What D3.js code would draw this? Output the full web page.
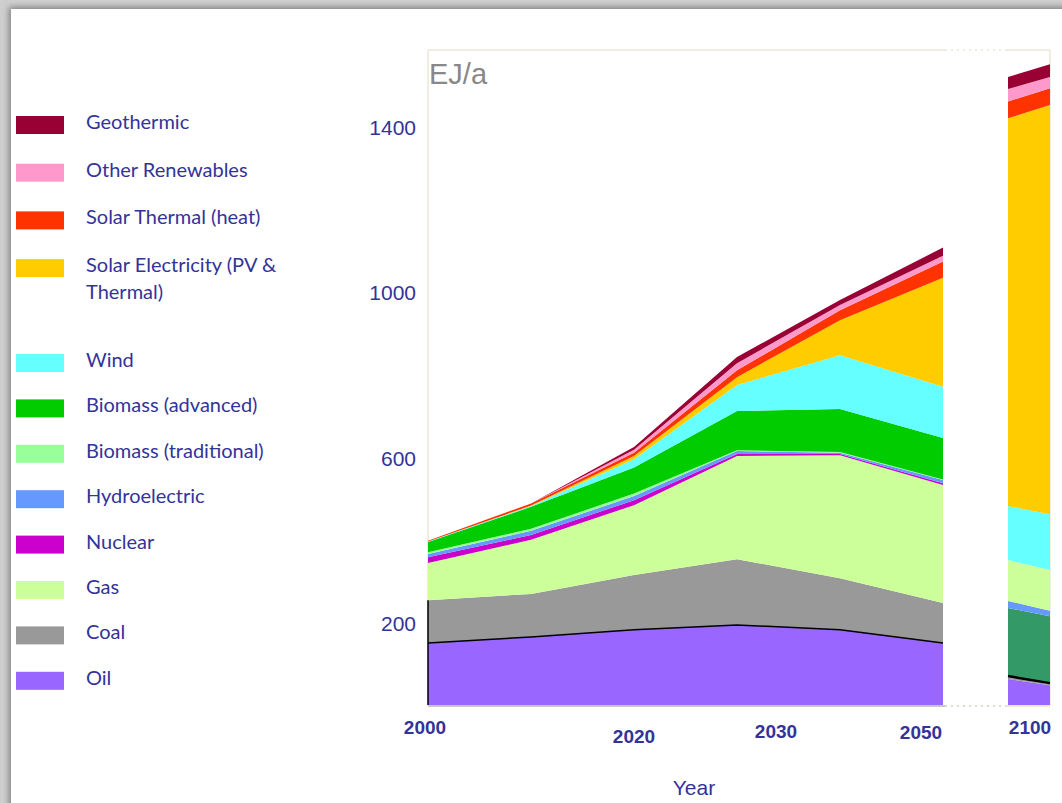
<!DOCTYPE html>
<html>
<head>
<meta charset="utf-8">
<script src="https://cdn.jsdelivr.net/npm/d3@7"></script>
<style>
  html, body { margin: 0; padding: 0; background: #fff; }
  svg { display: block; }
</style>
</head>
<body>
<div id="chart"></div>
<script>
// main period, 2000-2050 (EJ/a)
const years = [2000, 2010, 2020, 2030, 2040, 2050]
const oil = [150, 165, 182, 194, 182, 150]
const coal = [104, 104, 133, 159, 125, 97]
const gas = [90, 131, 169, 250, 298, 286]
const nuclear = [14, 12, 12, 5, 3, 4]
const hydro = [8, 10, 10, 7, 3, 8]
const bioTrad = [4, 5, 6, 2, 2, 1]
const bioAdv = [25, 53, 63, 95, 104, 101]
const wind = [1, 2, 20, 63, 130, 124]
const solarElec = [0, 1, 8, 19, 85, 264]
const solarThermal = [2, 5, 8, 17, 24, 39]
const otherRen = [0, 0, 7, 17, 13, 14]
const geothermic = [0, 0, 7, 15, 12, 20]

// the separate 2100 panel
const panelYears = [2090, 2100]
const panelOil = [63, 48]
const panelCoal = [7, 5]
const panelBioAdv = [165, 162]
const panelHydro = [17, 13]
const panelGas = [99, 99]
const panelWind = [131, 135]
const panelSolarElec = [939, 991]
const panelSolarThermal = [41, 41]
const panelOtherRen = [30, 27]
const panelGeothermic = [29, 31]

const seriesNames = [
  'Oil', 'Coal', 'Gas', 'Nuclear', 'Hydroelectric', 'Biomass (traditional)',
  'Biomass (advanced)', 'Wind', 'Solar Electricity (PV & Thermal)',
  'Solar Thermal (heat)', 'Other Renewables', 'Geothermic'
]
const panelOrder = [
  'Oil', 'Coal', 'Biomass (advanced)', 'Hydroelectric', 'Gas', 'Wind',
  'Solar Electricity (PV & Thermal)', 'Solar Thermal (heat)',
  'Other Renewables', 'Geothermic'
]
const yTicks = [200, 600, 1000, 1400]
const xTickLabels = ['2000', '2020', '2030', '2050', '2100']

const colors = {
  'Oil': '#9966ff',
  'Coal': '#999999',
  'Gas': '#ccff99',
  'Nuclear': '#cc00cc',
  'Hydroelectric': '#6699ff',
  'Biomass (traditional)': '#99ff99',
  'Biomass (advanced)': '#00cc00',
  'Wind': '#66ffff',
  'Solar Electricity (PV & Thermal)': '#ffcc00',
  'Solar Thermal (heat)': '#ff3300',
  'Other Renewables': '#ff99cc',
  'Geothermic': '#990033'
}
const panelColors = { ...colors, 'Biomass (advanced)': '#339966' }

const mainSeries = [oil, coal, gas, nuclear, hydro, bioTrad, bioAdv, wind,
  solarElec, solarThermal, otherRen, geothermic]
const panelSeries = {
  'Oil': panelOil, 'Coal': panelCoal, 'Biomass (advanced)': panelBioAdv,
  'Hydroelectric': panelHydro, 'Gas': panelGas, 'Wind': panelWind,
  'Solar Electricity (PV & Thermal)': panelSolarElec,
  'Solar Thermal (heat)': panelSolarThermal,
  'Other Renewables': panelOtherRen, 'Geothermic': panelGeothermic
}

const rows = years.map((year, i) => {
  const row = { year }
  seriesNames.forEach((name, j) => { row[name] = mainSeries[j][i] })
  return row
})
const panelRows = panelYears.map((year, i) => {
  const row = { year }
  panelOrder.forEach(name => { row[name] = panelSeries[name][i] })
  return row
})

const width = 1062
const height = 803
const textColor = '#333399'
const axisFont = 'Liberation Sans, Arial, sans-serif'

const svg = d3
  .select('#chart')
  .append('svg')
  .attr('width', width)
  .attr('height', height)

// slide background with its shadow
const defs = svg.append('defs')
const shadow = defs.append('filter').attr('id', 'shadow')
  .attr('x', '-5%').attr('y', '-5%').attr('width', '110%').attr('height', '110%')
shadow.append('feDropShadow')
  .attr('dx', -2).attr('dy', -2).attr('stdDeviation', 3)
  .attr('flood-color', '#777').attr('flood-opacity', 0.9)

svg.append('rect').attr('width', width).attr('height', height).attr('fill', '#cfcfcf')
svg.append('rect')
  .attr('x', 11).attr('y', 9)
  .attr('width', width + 20).attr('height', height + 20)
  .attr('fill', '#fff')
  .attr('filter', 'url(#shadow)')

const x = d3.scaleLinear().domain([2000, 2050]).range([428, 943])
const xPanel = d3.scaleLinear().domain(d3.extent(panelYears)).range([1008, 1050])
const y = d3.scaleLinear().domain([0, 1400]).range([705, 127])

const frameTop = 50
const frameLeft = x.range()[0]
const frameRight = xPanel.range()[1]
const gapLeft = x.range()[1] + 2
const gapRight = xPanel.range()[0] - 2

// plot frame
const frame = svg.append('g').attr('stroke', '#ebe8d8').attr('stroke-width', 1.5)
frame.append('line')
  .attr('x1', frameLeft).attr('x2', gapLeft)
  .attr('y1', frameTop).attr('y2', frameTop)
frame.append('line')
  .attr('x1', gapRight).attr('x2', frameRight)
  .attr('y1', frameTop).attr('y2', frameTop)
frame.append('line')
  .attr('x1', gapLeft).attr('x2', gapRight)
  .attr('y1', frameTop).attr('y2', frameTop)
  .attr('stroke-dasharray', '2,4')
frame.append('line')
  .attr('x1', frameLeft).attr('x2', frameLeft)
  .attr('y1', frameTop).attr('y2', y(0))
frame.append('line')
  .attr('x1', frameRight).attr('x2', frameRight)
  .attr('y1', frameTop).attr('y2', y(0))

// stacked areas
const stacked = d3.stack().keys(seriesNames)(rows)
const area = d3
  .area()
  .x(d => x(d.data.year))
  .y0(d => y(d[0]))
  .y1(d => y(d[1]))

svg
  .append('g')
  .selectAll('path')
  .data(stacked)
  .join('path')
  .attr('fill', d => colors[d.key])
  .attr('d', area)

const panelStacked = d3.stack().keys(panelOrder)(panelRows)
const panelArea = d3
  .area()
  .x(d => xPanel(d.data.year))
  .y0(d => y(d[0]))
  .y1(d => y(d[1]))

svg
  .append('g')
  .selectAll('path')
  .data(panelStacked)
  .join('path')
  .attr('fill', d => panelColors[d.key])
  .attr('d', panelArea)

// black line on top of oil and on the left edge
const oilTop = d3.line().x(d => x(d.data.year)).y(d => y(d[1]))
svg.append('path')
  .datum(stacked[0])
  .attr('fill', 'none').attr('stroke', '#000').attr('stroke-width', 1.5)
  .attr('d', oilTop)
const panelOilTop = d3.line().x(d => xPanel(d.data.year)).y(d => y(d[1]))
svg.append('path')
  .datum(panelStacked[1])
  .attr('fill', 'none').attr('stroke', '#000').attr('stroke-width', 2.5)
  .attr('d', panelOilTop)
svg.append('line')
  .attr('x1', x(2000)).attr('x2', x(2000))
  .attr('y1', y(0)).attr('y2', y(stacked[1][0][1]))
  .attr('stroke', '#000').attr('stroke-width', 1.5)

// baseline
const base = svg.append('g').attr('stroke', '#c8c8c8').attr('stroke-width', 2)
base.append('line')
  .attr('x1', frameLeft).attr('x2', gapLeft)
  .attr('y1', y(0) + 1).attr('y2', y(0) + 1)
base.append('line')
  .attr('x1', gapLeft).attr('x2', gapRight)
  .attr('y1', y(0) + 1).attr('y2', y(0) + 1)
  .attr('stroke', '#e0dccc').attr('stroke-dasharray', '2,4')
base.append('line')
  .attr('x1', gapRight).attr('x2', frameRight)
  .attr('y1', y(0) + 1).attr('y2', y(0) + 1)
  .attr('stroke', '#ebe8d8')

// y axis labels
svg
  .append('g')
  .selectAll('text')
  .data(yTicks)
  .join('text')
  .attr('x', 416)
  .attr('y', d => y(d) + 1)
  .attr('dy', '0.35em')
  .attr('text-anchor', 'end')
  .attr('fill', textColor)
  .attr('font-family', axisFont)
  .attr('font-size', 21)
  .text(d => d)

svg.append('text')
  .attr('x', 429).attr('y', 84)
  .attr('fill', '#888')
  .attr('font-family', axisFont)
  .attr('font-size', 29)
  .text('EJ/a')

// x labels, placed as in the original slide
const xLabelPos = {
  '2000': { x: x(2000) - 3, y: 727 },
  '2020': { x: x(2020), y: 736 },
  '2030': { x: x(2030) + 39, y: 731 },
  '2050': { x: x(2050) - 22, y: 732 },
  '2100': { x: xPanel(2100) - 20, y: 727 }
}
svg
  .append('g')
  .selectAll('text')
  .data(xTickLabels)
  .join('text')
  .attr('x', d => xLabelPos[d].x)
  .attr('y', d => xLabelPos[d].y)
  .attr('dy', '0.35em')
  .attr('text-anchor', 'middle')
  .attr('fill', textColor)
  .attr('font-family', axisFont)
  .attr('font-weight', 'bold')
  .attr('font-size', 19)
  .text(d => d)

svg.append('text')
  .attr('x', 694).attr('y', 788)
  .attr('dy', '0.35em')
  .attr('text-anchor', 'middle')
  .attr('fill', textColor)
  .attr('font-family', axisFont)
  .attr('font-size', 21)
  .text('Year')

// legend
const legendTop = seriesNames.slice(8).reverse()
const legendBottom = seriesNames.slice(0, 8).reverse()
const legendItems = [
  ...legendTop.map((name, i) => ({ name, cy: 125 + i * 47.7 })),
  ...legendBottom.map((name, i) => ({ name, cy: 363 + i * 45.4 }))
]
const legend = svg.append('g')
  .selectAll('g')
  .data(legendItems)
  .join('g')
  .attr('transform', d => `translate(16, ${d.cy})`)

legend.append('rect')
  .attr('x', 0).attr('y', -9)
  .attr('width', 48).attr('height', 18)
  .attr('fill', d => colors[d.name])

legend.append('text')
  .attr('x', 70)
  .attr('y', -3)
  .attr('fill', textColor)
  .attr('font-family', 'Lato, Open Sans, sans-serif')
  .attr('font-size', 20)
  .each(function(d) {
    const t = d3.select(this)
    const parts = d.name === 'Solar Electricity (PV & Thermal)'
      ? ['Solar Electricity (PV &', 'Thermal)']
      : [d.name]
    parts.forEach((p, i) => {
      t.append('tspan').attr('x', 70).attr('dy', i === 0 ? '0.35em' : 27).text(p)
    })
  })
</script>
</body>
</html>
